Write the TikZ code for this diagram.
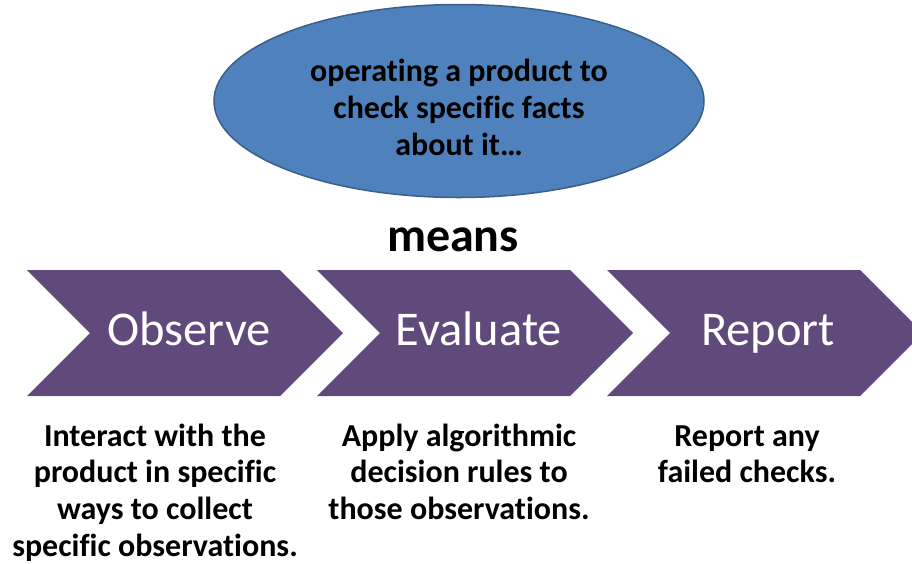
\documentclass[tikz,border=0pt]{standalone}
\usepackage{fontspec}
\setmainfont[Ligatures=NoCommon]{Carlito}
\usetikzlibrary{shapes.geometric}

\definecolor{ovalblue}{HTML}{4F81BD}
\definecolor{ovalline}{HTML}{3A5F8B}
\definecolor{stepviolet}{HTML}{604A7B}

\begin{document}
\begin{tikzpicture}[x=1pt,y=-1pt,
  chevron/.style={fill=stepviolet},
  steplabel/.style={text=white,anchor=base,font=\fontsize{48.5}{52}\selectfont},
  notes/.style={align=center,anchor=base,inner sep=0pt,
    font=\bfseries\fontsize{32}{36.8}\selectfont}]

  \useasboundingbox (0,0) rectangle (912,563);

  % the oval on top
  \node[ellipse, fill=ovalblue, draw=ovalline, line width=1.5pt,
        minimum width=490pt, minimum height=193pt, inner sep=0pt]
        (oval) at (459,101) {};
  \node[align=center, inner sep=0pt, font=\bfseries\fontsize{32}{37}\selectfont]
        (ovaltext) at (459,107) {operating a product to\\check specific facts\\about it\dots};

  \node[font=\bfseries\fontsize{48}{52}\selectfont, anchor=base] (means) at (453,251) {means};

  % the three steps
  \fill[chevron] (27,270) -- (280,270) -- (343,333) -- (280,396) -- (27,396) -- (90,333) -- cycle;
  \fill[chevron] (317,270) -- (570,270) -- (633,333) -- (570,396) -- (317,396) -- (380,333) -- cycle;
  \fill[chevron] (607,270) -- (860,270) -- (923,333) -- (860,396) -- (607,396) -- (670,333) -- cycle;

  \node[steplabel] (observe) at (189,345) {Observe};
  \node[steplabel] (evaluate) at (479,345) {Evaluate};
  \node[steplabel] (report) at (768,345) {Report};

  % what each step does (placed at the last baseline)
  \node[notes] (observenote) at (155,556.4) {Interact with the\\product in specific\\ways to collect\\specific observations.};
  \node[notes] (evaluatenote) at (459,519.6) {Apply algorithmic\\decision rules to\\those observations.};
  \node[notes] (reportnote) at (747,482.8) {Report any\\failed checks.};

\end{tikzpicture}
\end{document}
